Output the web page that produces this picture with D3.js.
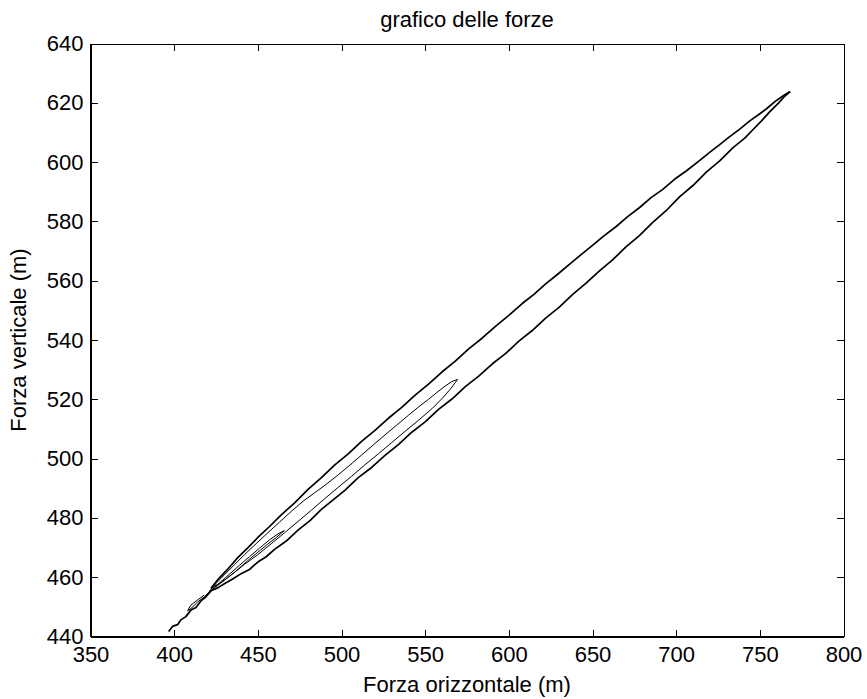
<!DOCTYPE html>
<html>
<head>
<meta charset="utf-8">
<script src="https://cdn.jsdelivr.net/npm/d3@7"></script>
<style>
  body { margin: 0; background: #fff; }
  svg text { font-family: "Liberation Sans", Arial, sans-serif; fill: #000; }
</style>
</head>
<body>
<svg id="chart" width="867" height="699"></svg>
<script>
// Axis ticks
const xTicks = [350, 400, 450, 500, 550, 600, 650, 700, 750, 800];
const yTicks = [440, 460, 480, 500, 520, 540, 560, 580, 600, 620, 640];

// Force trajectory [horizontal, vertical], split into loading / unloading branches
const outerRise = [
  [396.7,441.7],[399,443.4],[402,444.0],[404,445.6],[407,446.7],[410,448.9],[413,449.8],
  [416,452.0],[419,453.4],[422,455.4],[426,456.4],[430,457.8],[435,459.4],[440,461.2],
  [445,462.6],[450,465.1],[455,466.9],[460,469.4],[467,472.2],[474,475.9],[481,479.0],
  [488,482.9],[495,486.1],[502,489.3],[510,493.6],[518,497.0],[526,501.1],[534,504.7],
  [542,508.9],[550,512.4],[558,516.6],[566,520.1],[574,524.3],[582,527.8],[590,531.9],
  [598,535.4],[606,539.6],[614,543.2],[622,547.4],[630,551.0],[638,555.3],[646,559.1],
  [654,563.2],[662,567.0],[670,571.4],[678,575.2],[686,579.7],[694,583.6],[702,588.3],
  [710,592.1],[718,596.6],[726,600.4],[734,604.9],[741,608.1],[746,611.0],[751,613.9],
  [756,617.0],[761,619.8],[765,622.3],[768.1,623.8]
];
const outerFall = [
  [768.1,623.8],[764,622.4],[759,620.4],[754,618.0],[749,615.9],[744,613.9],[738,611.1],
  [732,608.6],[726,605.9],[720,603.3],[713,600.1],[706,597.0],[699,594.2],[692,590.8],
  [685,588.0],[678,584.6],[671,581.6],[664,578.2],[657,575.2],[650,571.9],[643,568.7],
  [636,565.4],[629,562.1],[622,558.9],[615,555.4],[608,552.3],[600,548.3],[592,544.6],
  [584,540.6],[576,537.0],[568,532.9],[560,529.2],[552,525.1],[544,521.4],[536,517.3],
  [528,513.6],[520,509.5],[512,505.8],[504,501.6],[496,497.9],[488,493.6],[480,489.6],
  [472,485.1],[464,481.0],[457,477.1],[450,473.4],[444,469.9],[438,466.6],[432,462.7],
  [427,459.8],[422,456.3]
];
const innerRiseA = [
  [422,456.3],[426,457.6],[430,459.0],[436,461.6],[442,464.3],[450,467.6],[458,471.3],
  [466,475.0],[474,478.8],[482,482.6],[490,486.5],[498,490.3],[506,494.0],[514,497.9],
  [522,501.6],[530,505.4],[538,509.2],[546,512.9],[554,516.8],[560,520.2],[565,523.4],
  [569.4,526.7]
];
const innerFallA = [
  [569.4,526.7],[566,526.0],[562,524.5],[557,522.3],[552,520.0],[546,517.4],[540,514.6],
  [533,511.3],[526,508.0],[519,504.6],[512,501.2],[505,497.8],[498,494.5],[491,491.4],
  [484,488.5],[477,485.6],[470,482.2],[463,478.6],[456,475.0],[449,471.3],[442,467.6],
  [436,464.2],[430,460.8],[425,457.9],[421,455.2]
];
const innerRiseB = [
  [421,455.2],[426,457.2],[432,459.8],[438,462.6],[444,465.6],[450,468.4],[456,471.2],
  [461,473.4],[465.8,475.7]
];
const innerFallB = [
  [465.8,475.7],[462,474.6],[457,472.6],[451,469.8],[445,466.9],[439,464.0],[433,461.0],
  [427,458.0],[422,455.6],[418,453.4],[414,451.6],[410,449.4],[408,448.7],[410,450.6],
  [414,452.3],[418,454.0]
];

const svg = d3.select("#chart");
const plotLeft = 90.5, plotRight = 843.5, plotTop = 43.5, plotBottom = 636.5;

const x = d3.scaleLinear().domain([350, 800]).range([plotLeft, plotRight]);
const y = d3.scaleLinear().domain([440, 640]).range([plotBottom, plotTop]);

const fontSize = 22;

// Axes: inward ticks on all four sides, labels on bottom and left
function styleAxis(g, width) {
  g.selectAll("path.domain").attr("stroke", "#000").attr("stroke-width", width)
    .attr("shape-rendering", "crispEdges");
  g.selectAll(".tick line").attr("stroke", "#000").attr("stroke-width", 1)
    .attr("shape-rendering", "crispEdges");
  g.selectAll("text").attr("font-size", fontSize).attr("fill", "#000")
    .attr("font-family", "Liberation Sans, Arial, sans-serif");
}

svg.append("g").attr("transform", `translate(0,${plotTop})`)
  .call(d3.axisTop(x).tickValues(xTicks).tickSizeInner(-7).tickSizeOuter(0).tickFormat(""))
  .call(g => styleAxis(g, 1));
svg.append("g").attr("transform", `translate(${plotRight},0)`)
  .call(d3.axisRight(y).tickValues(yTicks).tickSizeInner(-7).tickSizeOuter(0).tickFormat(""))
  .call(g => styleAxis(g, 1));
svg.append("g").attr("transform", `translate(0,${plotBottom})`)
  .call(d3.axisBottom(x).tickValues(xTicks).tickSizeInner(-7).tickSizeOuter(0).tickPadding(10))
  .call(g => styleAxis(g, 1.5));
svg.append("g").attr("transform", `translate(${plotLeft},0)`)
  .call(d3.axisLeft(y).tickValues(yTicks).tickSizeInner(-7).tickSizeOuter(0).tickPadding(7))
  .call(g => styleAxis(g, 1.5));

// Trajectory
const line = d3.line().x(d => x(d[0])).y(d => y(d[1]));
const branches = [
  { pts: outerRise, w: 1.7 },
  { pts: outerFall, w: 1.7 },
  { pts: innerRiseA, w: 1 },
  { pts: innerFallA, w: 1 },
  { pts: innerRiseB, w: 1 },
  { pts: innerFallB, w: 1 }
];
svg.append("g").selectAll("path").data(branches).join("path")
  .attr("d", d => line(d.pts))
  .attr("fill", "none")
  .attr("stroke", "#000")
  .attr("stroke-width", d => d.w)
  .attr("stroke-linejoin", "round");

// Titles
svg.append("text").attr("x", (plotLeft + plotRight) / 2).attr("y", 27)
  .attr("text-anchor", "middle").attr("font-size", fontSize)
  .text("grafico delle forze");
svg.append("text").attr("x", (plotLeft + plotRight) / 2).attr("y", 692)
  .attr("text-anchor", "middle").attr("font-size", fontSize)
  .text("Forza orizzontale (m)");
svg.append("text")
  .attr("transform", `translate(26,${(plotTop + plotBottom) / 2}) rotate(-90)`)
  .attr("text-anchor", "middle").attr("font-size", fontSize)
  .text("Forza verticale (m)");
</script>
</body>
</html>
